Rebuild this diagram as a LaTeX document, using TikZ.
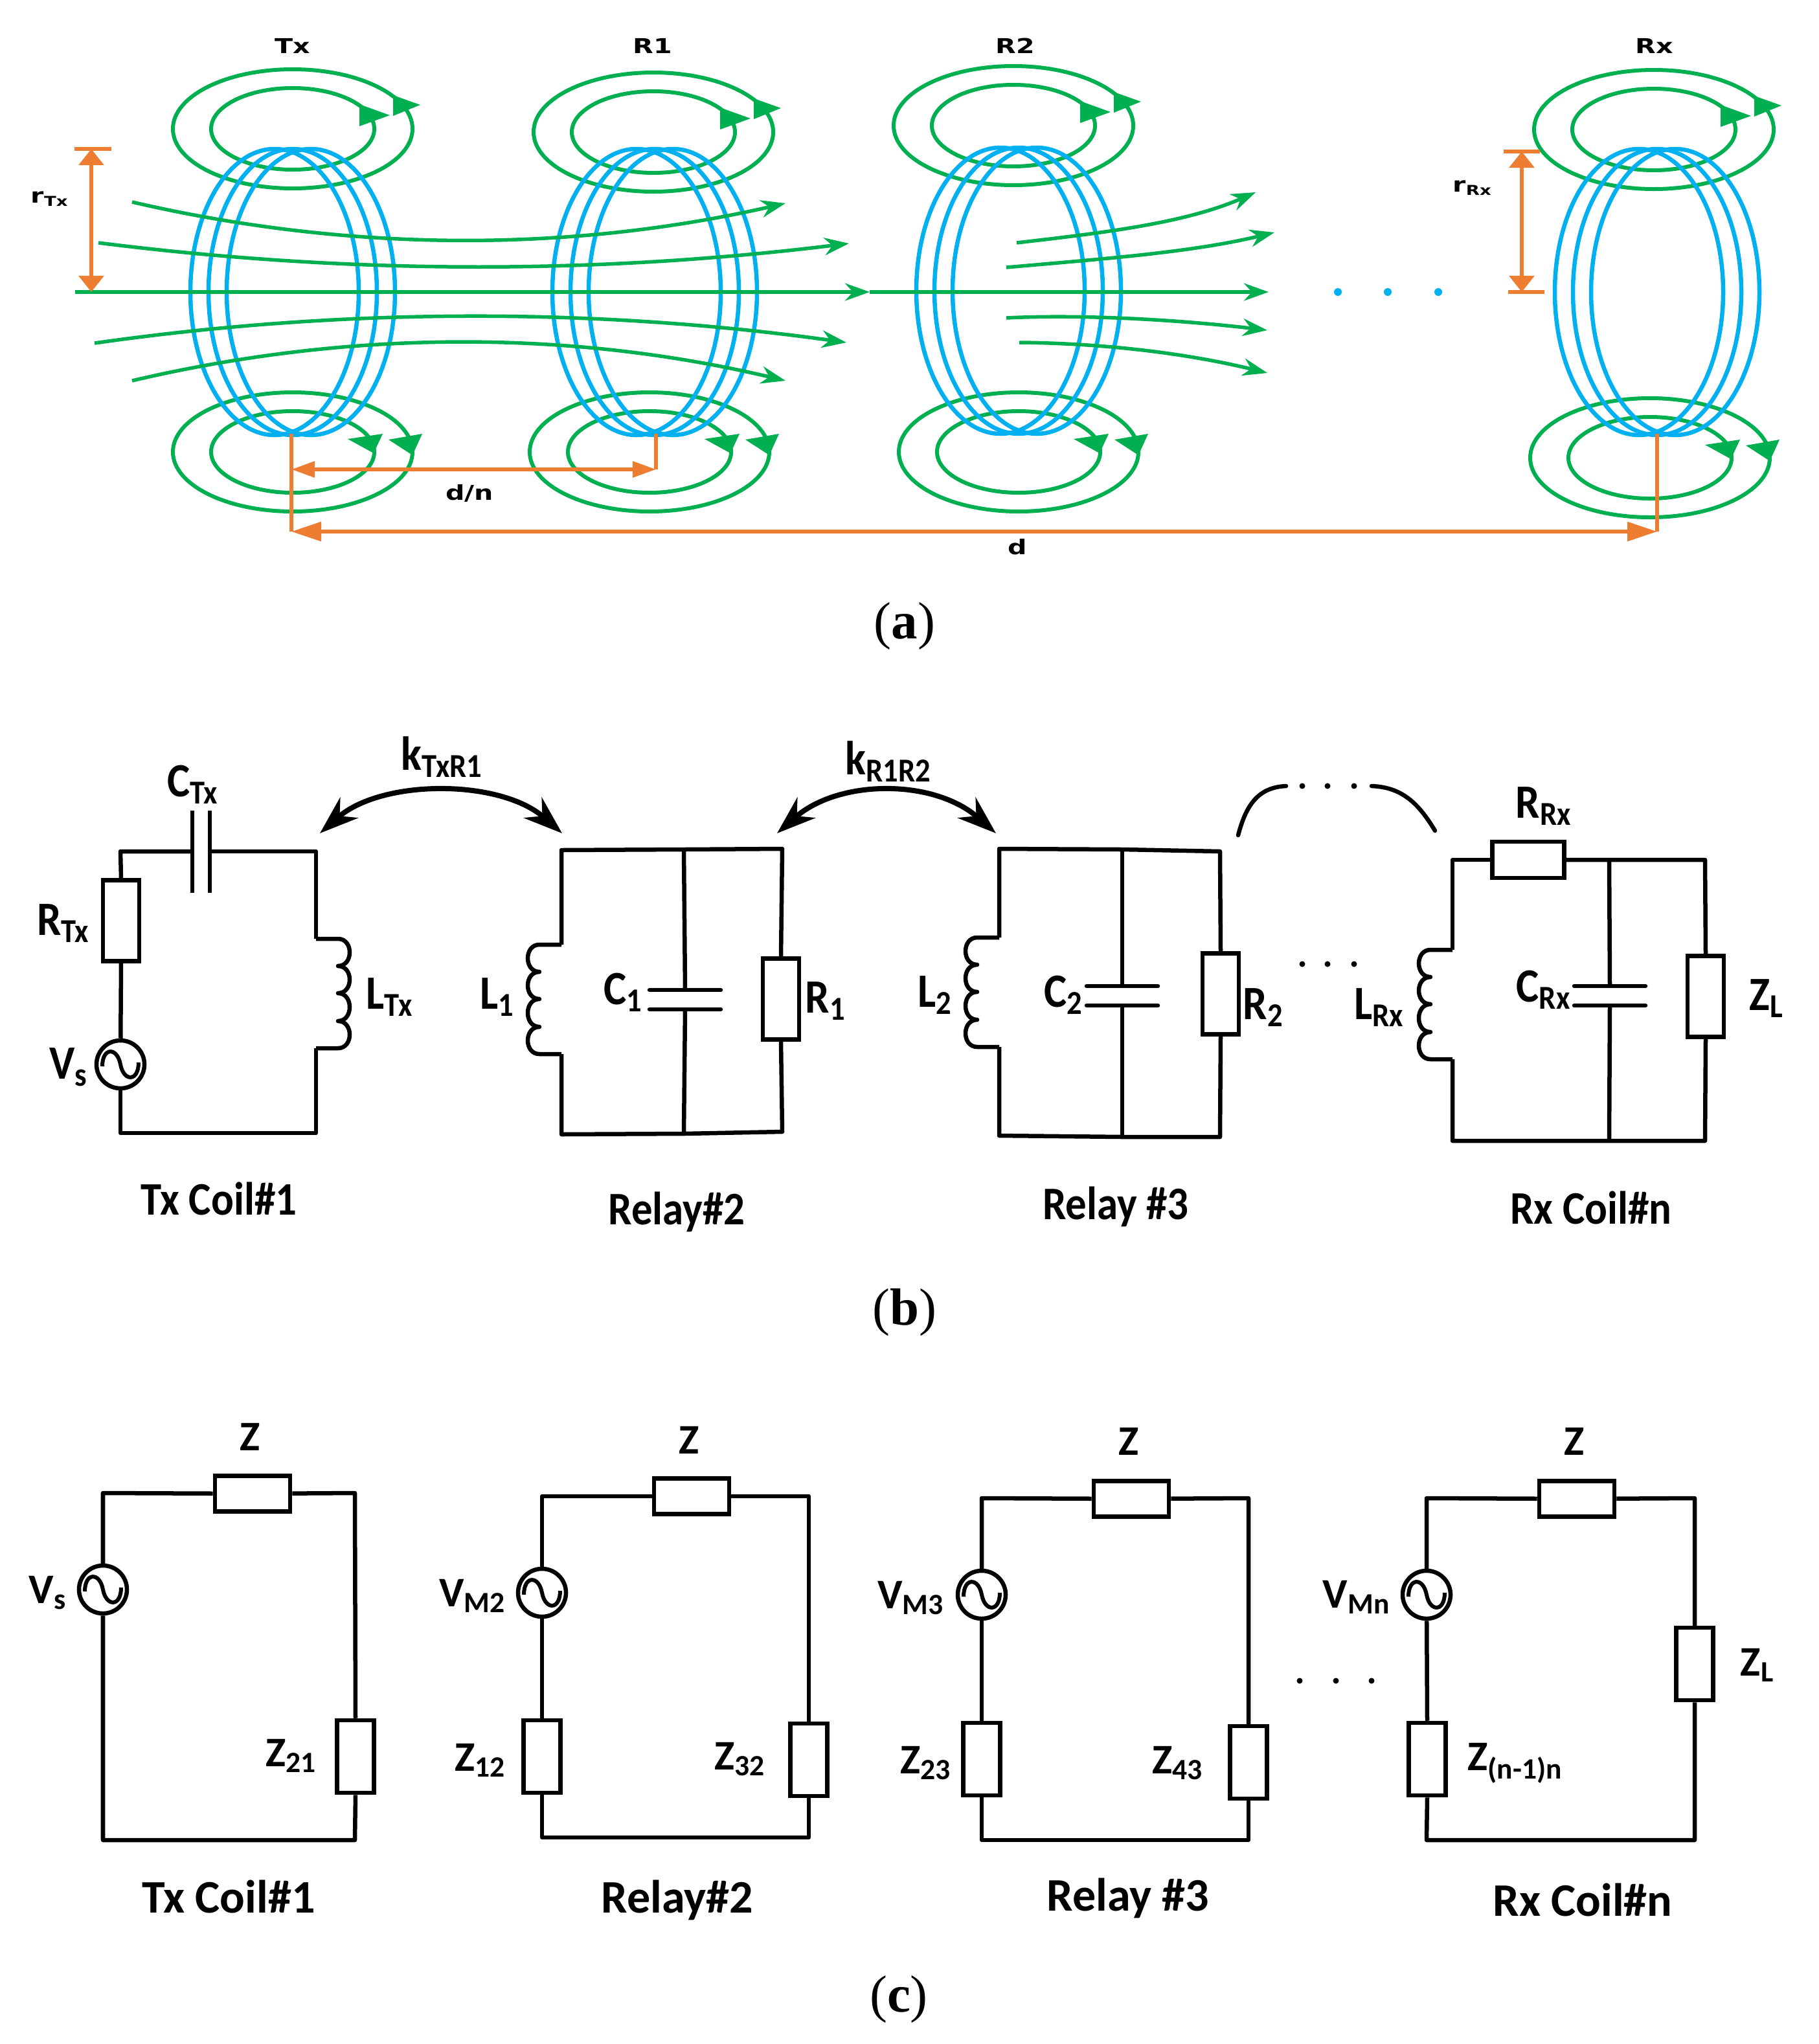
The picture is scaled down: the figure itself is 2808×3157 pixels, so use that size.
\documentclass[tikz,border=0pt]{standalone}
\usepackage{fontspec}
\setmainfont{Carlito}
\newfontfamily\narrowfont{Carlito}[FakeStretch=0.9]
\newfontfamily\widefont{DejaVu Sans}[FakeStretch=1.3]
\newfontfamily\capfont{Liberation Serif}
\usetikzlibrary{arrows.meta}
\definecolor{flux}{HTML}{00B050}
\definecolor{loopblue}{HTML}{00B0F0}
\definecolor{dimen}{HTML}{ED7D31}
\tikzset{
  wire/.style={line width=0.065cm,line join=round},
  rline/.style={flux,line width=0.06cm},
  bline/.style={loopblue,line width=0.065cm},
  fluxline/.style={flux,line width=0.055cm,-{Stealth[length=0.38cm,width=0.27cm]}},
  dimline/.style={dimen,line width=0.06cm},
  kline/.style={line width=0.08cm,{Stealth[length=0.6cm,width=0.42cm]}-{Stealth[length=0.6cm,width=0.42cm]}},
  resv/.style={draw,rectangle,line width=0.065cm,inner sep=0pt,minimum width=0.56cm,minimum height=1.25cm},
  resh/.style={draw,rectangle,line width=0.065cm,inner sep=0pt,minimum width=1.11cm,minimum height=0.56cm},
  zv/.style={resv,minimum width=0.57cm,minimum height=1.12cm},
  zh/.style={resh,minimum width=1.16cm,minimum height=0.55cm},
  source/.style={draw,circle,line width=0.065cm,inner sep=0pt,minimum size=0.74cm,
    path picture={\draw[line width=0.06cm,shift={(path picture bounding box.center)}]
      (-28,3) .. controls (-28,-27) and (-5,-27) .. (0,0) .. controls (5,27) and (28,27) .. (28,-3);}},
  dotb/.style={circle,fill=loopblue,inner sep=0pt,minimum size=0.12cm},
  dotk/.style={circle,fill=black,inner sep=0pt,minimum size=0.09cm},
  coiltext/.style={font=\widefont\bfseries\fontsize{9}{10}\selectfont,inner sep=0pt},
  lab/.style={font=\narrowfont\bfseries\fontsize{21}{24}\selectfont,inner sep=0pt},
  title/.style={font=\narrowfont\bfseries\fontsize{20.5}{24}\selectfont,inner sep=0pt},
  labc/.style={font=\bfseries\fontsize{18.5}{22}\selectfont,inner sep=0pt},
  titlec/.style={font=\bfseries\fontsize{20.5}{22}\selectfont,inner sep=0pt},
  panel/.style={font=\capfont\fontsize{23}{26}\selectfont,inner sep=0pt},
  threeloop/.pic={
    \draw[bline] (-28,0) ellipse [x radius=130,y radius=221];
    \draw[bline] (0,0) ellipse [x radius=130,y radius=221];
    \draw[bline] (28,0) ellipse [x radius=130,y radius=221];
  },
  ringtop/.pic={
    \draw[rline] (0,0) ellipse [x radius=185,y radius=92];
    \draw[rline] (0,0) ellipse [x radius=126,y radius=63];
    \fill[flux] (197,-37) -- (155,-52) -- (155,-20) -- cycle;
    \fill[flux] (150,-21) -- (103,-38) -- (103,-4) -- cycle;
  },
  ringbot/.pic={
    \draw[rline] (0,0) ellipse [x radius=185,y radius=92];
    \draw[rline] (0,0) ellipse [x radius=126,y radius=63];
    \fill[flux] (148,-19) -- (200,-28) -- (185,5) -- cycle;
    \fill[flux] (85,-20) -- (139,-28) -- (125,2) -- cycle;
  },
  coilr/.pic={
    \coordinate (-a) at (0,0);
    \coordinate (-b) at (0,169);
    \draw[wire] (-a) -- (34,0) .. controls (58,0) and (58,42) .. (34,42)
      .. controls (58,42) and (58,84) .. (34,84)
      .. controls (58,84) and (58,127) .. (34,127)
      .. controls (58,127) and (58,169) .. (34,169) -- (-b);
  },
  caph/.pic={
    \coordinate (-t) at (0,-15);
    \coordinate (-b) at (0,15);
    \draw[wire,line cap=round] (-55,-15) -- (55,-15);
    \draw[wire,line cap=round] (-55,15) -- (55,15);
  },
}
\begin{document}
\begin{tikzpicture}[x=0.01cm,y=-0.01cm]
\useasboundingbox (0,0) rectangle (2808,3157);

% Rings
\pic at (452,199) {ringtop};
\pic at (1009,204) {ringtop};
\pic at (1565,194) {ringtop};
\pic at (2554,200) {ringtop};
\pic at (452,698) {ringbot};
\pic at (1003,698) {ringbot};
\pic at (1573,698) {ringbot};
\pic at (2548,707) {ringbot};

% Loops
\pic at (452,451) {threeloop};
\pic at (1011,451) {threeloop};
\pic at (1573,449) {threeloop};
\pic at (2559,451) {threeloop};

% Coil names
\node[coiltext] (ntx) at (452,71) {Tx};
\node[coiltext] (nr1) at (1008,71) {R1};
\node[coiltext] (nr2) at (1568,71) {R2};
\node[coiltext] (nrx) at (2555,71) {Rx};
\node[coiltext] (nrtx) at (77,307) {r\textsubscript{Tx}};
\node[coiltext] (nrrx) at (2274,290) {r\textsubscript{Rx}};
\node[coiltext] (ndn) at (725,762) {d/n};
\node[coiltext] (nd) at (1571,845) {d};

% Field lines
\coordinate (fa) at (116,451);
\coordinate (fb) at (1343,451);
\coordinate (fc) at (1959,451);
\draw[fluxline] (fa) -- (fb);
\draw[fluxline] (fb) -- (fc);
\draw[fluxline] (204,312) .. controls (540,390) and (880,390) .. (1213,314);
\draw[fluxline] (152,375) .. controls (540,424) and (920,424) .. (1311,376);
\draw[fluxline] (146,530) .. controls (530,475) and (920,475) .. (1307,529);
\draw[fluxline] (204,588) .. controls (540,509) and (880,509) .. (1213,588);
\draw[fluxline] (1570,375) .. controls (1700,360) and (1830,345) .. (1939,297);
\draw[fluxline] (1554,413) .. controls (1700,400) and (1840,390) .. (1968,359);
\draw[fluxline] (1554,491) .. controls (1680,485) and (1830,495) .. (1957,510);
\draw[fluxline] (1574,529) .. controls (1700,530) and (1830,545) .. (1957,576);

\node[dotb] (bd1) at (2066,451) {};
\node[dotb] (bd2) at (2143,451) {};
\node[dotb] (bd3) at (2221,451) {};

% Dimensions
\coordinate (rt1) at (141,230);
\coordinate (rt2) at (141,451);
\coordinate (rr1) at (2350,234);
\coordinate (rr2) at (2350,451);
\coordinate (dtx) at (450,670);
\coordinate (dtb) at (450,821);
\coordinate (dr1) at (1013,670);
\coordinate (dr2) at (1013,725);
\coordinate (dtm) at (450,725);
\coordinate (drx) at (2559,670);
\coordinate (drb) at (2559,821);
\draw[dimline] (115,230) -- (172,230);
\draw[dimline] (2322,234) -- (2378,234);
\draw[dimline] (2329,451) -- (2385,451);
\draw[dimline,{Triangle[length=0.25cm,width=0.38cm]}-{Triangle[length=0.25cm,width=0.38cm]}] (rt1) -- (rt2);
\draw[dimline,{Triangle[length=0.25cm,width=0.38cm]}-{Triangle[length=0.25cm,width=0.38cm]}] (rr1) -- (rr2);
\draw[dimline] (dtx) -- (dtb);
\draw[dimline] (dr1) -- (dr2);
\draw[dimline] (drx) -- (drb);
\draw[dimline,{Triangle[length=0.36cm,width=0.24cm]}-{Triangle[length=0.36cm,width=0.24cm]}] (dtm) -- (dr2);
\draw[dimline,{Triangle[length=0.46cm,width=0.29cm]}-{Triangle[length=0.46cm,width=0.29cm]}] (dtb) -- (drb);

\node[panel] (pa) at (1397,967) {(\textbf{a})};

% Tx coil, circuit
\node[resv] (rtx) at (187,1422) {};
\node[source] (vs) at (186,1644) {};
\pic (ltx) at (488,1450) {coilr};
\coordinate (btl) at (186,1315);
\coordinate (btr) at (488,1315);
\coordinate (bbl) at (186,1750);
\coordinate (bbr) at (488,1750);
\coordinate (ca) at (297,1315);
\coordinate (cb) at (324,1315);
\coordinate (cat) at (297,1252);
\coordinate (cab) at (297,1379);
\coordinate (cbt) at (324,1252);
\coordinate (cbb) at (324,1379);
\draw[wire] (rtx.north) -- (btl) -- (ca);
\draw[wire] (cb) -- (btr) -- (ltx-a);
\draw[wire] (ltx-b) -- (bbr) -- (bbl) -- (vs);
\draw[wire] (vs) -- (rtx.south);
\draw[wire] (cat) -- (cab);
\draw[wire] (cbt) -- (cbb);
\node[lab] (lctx) at (298,1212) {C\textsubscript{Tx}};
\node[lab] (lrtx) at (98,1426) {R\textsubscript{Tx}};
\node[lab] (lvs) at (106,1648) {V\textsubscript{s}};
\node[lab] (lltx) at (602,1540) {L\textsubscript{Tx}};
\node[title] (ttx) at (338,1851) {Tx Coil\#1};

% Relay 2, circuit
\pic[xscale=-1] (l1) at (867,1459) {coilr};
\pic (c1) at (1058,1544) {caph};
\node[resv] (r1) at (1206,1543) {};
\coordinate (atl) at (867,1313);
\coordinate (atm) at (1056,1312);
\coordinate (atr) at (1208,1311);
\coordinate (abl) at (867,1752);
\coordinate (abm) at (1056,1751);
\coordinate (abr) at (1208,1748);
\draw[wire] (l1-a) -- (atl) -- (atm) -- (atr) -- (r1.north);
\draw[wire] (r1.south) -- (abr) -- (abm) -- (abl) -- (l1-b);
\draw[wire] (atm) -- (c1-t);
\draw[wire] (c1-b) -- (abm);
\node[lab] (ll1) at (768,1540) {L\textsubscript{1}};
\node[lab] (lc1) at (963,1533) {C\textsubscript{1}};
\node[lab] (lr1) at (1275,1546) {R\textsubscript{1}};
\node[title] (tr2) at (1045,1872) {Relay\#2};

% Relay 3, circuit
\pic[xscale=-1] (l2) at (1543,1448) {coilr};
\pic (c2) at (1733,1538) {caph};
\node[resv] (r2) at (1885,1535) {};
\coordinate (ctl) at (1543,1311);
\coordinate (ctm) at (1733,1312);
\coordinate (ctr) at (1884,1315);
\coordinate (cbl) at (1543,1754);
\coordinate (cbm) at (1733,1756);
\coordinate (cbr) at (1884,1756);
\draw[wire] (l2-a) -- (ctl) -- (ctm) -- (ctr) -- (r2.north);
\draw[wire] (r2.south) -- (cbr) -- (cbm) -- (cbl) -- (l2-b);
\draw[wire] (ctm) -- (c2-t);
\draw[wire] (c2-b) -- (cbm);
\node[lab] (ll2) at (1444,1537) {L\textsubscript{2}};
\node[lab] (lc2) at (1643,1537) {C\textsubscript{2}};
\node[lab] (lr2) at (1951,1556) {R\textsubscript{2}};
\node[title] (tr3) at (1723,1864) {Relay \#3};

% Rx coil, circuit
\pic[xscale=-1] (lrx) at (2243,1467) {coilr};
\pic (crx) at (2486,1538) {caph};
\node[resh] (rrx) at (2360,1328) {};
\node[resv] (zl) at (2634,1539) {};
\coordinate (dtl) at (2243,1328);
\coordinate (dtm2) at (2485,1328);
\coordinate (dtr) at (2633,1328);
\coordinate (dbl) at (2243,1762);
\coordinate (dbm) at (2485,1762);
\coordinate (dbr) at (2633,1762);
\draw[wire] (lrx-a) -- (dtl) -- (rrx);
\draw[wire] (rrx) -- (dtm2) -- (dtr) -- (zl.north);
\draw[wire] (zl.south) -- (dbr) -- (dbm) -- (dbl) -- (lrx-b);
\draw[wire] (dtm2) -- (crx-t);
\draw[wire] (crx-b) -- (dbm);
\node[lab] (lrrx) at (2384,1245) {R\textsubscript{Rx}};
\node[lab] (lcrx) at (2384,1529) {C\textsubscript{Rx}};
\node[lab] (llrx) at (2130,1556) {L\textsubscript{Rx}};
\node[lab] (lzl) at (2728,1542) {Z\textsubscript{L}};
\node[title] (trx) at (2457,1865) {Rx Coil\#n};

% Coupling
\coordinate (k1a) at (494,1287);
\coordinate (k1b) at (868,1287);
\coordinate (k2a) at (1200,1287);
\coordinate (k2b) at (1538,1287);
\draw[kline] (k1a) .. controls (590,1203) and (772,1203) .. (k1b);
\draw[kline] (k2a) .. controls (1296,1203) and (1442,1203) .. (k2b);
\node[lab] (lk1) at (683,1169) {k\textsubscript{TxR1}};
\node[lab] (lk2) at (1372,1176) {k\textsubscript{R1R2}};
\coordinate (m1) at (1912,1290);
\coordinate (m2) at (1986,1214);
\coordinate (m3) at (2118,1214);
\coordinate (m4) at (2216,1283);
\draw[wire,line cap=round] (m1) .. controls (1925,1240) and (1945,1216) .. (m2);
\draw[wire,line cap=round] (m3) .. controls (2165,1216) and (2190,1240) .. (m4);
\node[dotk] (kd1) at (2011,1214) {};
\node[dotk] (kd2) at (2050,1214) {};
\node[dotk] (kd3) at (2091,1214) {};
\node[dotk] (kd4) at (2011,1489) {};
\node[dotk] (kd5) at (2050,1489) {};
\node[dotk] (kd6) at (2091,1489) {};

\node[panel] (pb) at (1397,2027) {(\textbf{b})};

% Tx coil, equivalent
\node[zh] (etz) at (390,2307) {};
\node[source] (evs) at (159,2455) {};
\node[zv] (ez21) at (549,2713) {};
\coordinate (etl) at (159,2306);
\coordinate (etr) at (548,2306);
\coordinate (ebl) at (159,2842);
\coordinate (ebr) at (548,2842);
\draw[wire] (evs) -- (etl) -- (etz);
\draw[wire] (etz) -- (etr) -- (ez21.north);
\draw[wire] (ez21.south) -- (ebr) -- (ebl) -- (evs);
\node[labc] (leta) at (386,2219) {Z};
\node[labc] (levs) at (74,2460) {V\textsubscript{s}};
\node[labc] (le21) at (450,2712) {Z\textsubscript{21}};
\node[titlec] (etx) at (353,2929) {Tx Coil\#1};

% Relay 2, equivalent
\node[zh] (fz) at (1068,2311) {};
\node[source] (fvs) at (837,2460) {};
\node[zv] (fz12) at (837,2713) {};
\node[zv] (fz32) at (1249,2718) {};
\coordinate (ftl) at (837,2311);
\coordinate (ftr) at (1249,2311);
\coordinate (fbl) at (837,2838);
\coordinate (fbr) at (1249,2838);
\draw[wire] (fvs) -- (ftl) -- (fz);
\draw[wire] (fz) -- (ftr) -- (fz32.north);
\draw[wire] (fz32.south) -- (fbr) -- (fbl) -- (fz12.south);
\draw[wire] (fz12.north) -- (fvs);
\node[labc] (lfz) at (1064,2224) {Z};
\node[labc] (lfvs) at (730,2465) {V\textsubscript{M2}};
\node[labc] (lf12) at (742,2719) {Z\textsubscript{12}};
\node[labc] (lf32) at (1143,2717) {Z\textsubscript{32}};
\node[titlec] (ftt) at (1046,2935) {Relay\#2};

% Relay 3, equivalent
\node[zh] (gz) at (1747,2315) {};
\node[source] (gvs) at (1516,2463) {};
\node[zv] (gz23) at (1516,2717) {};
\node[zv] (gz43) at (1928,2722) {};
\coordinate (gtl) at (1516,2314);
\coordinate (gtr) at (1928,2314);
\coordinate (gbl) at (1516,2842);
\coordinate (gbr) at (1928,2842);
\draw[wire] (gvs) -- (gtl) -- (gz);
\draw[wire] (gz) -- (gtr) -- (gz43.north);
\draw[wire] (gz43.south) -- (gbr) -- (gbl) -- (gz23.south);
\draw[wire] (gz23.north) -- (gvs);
\node[labc] (lgz) at (1743,2226) {Z};
\node[labc] (lgvs) at (1407,2468) {V\textsubscript{M3}};
\node[labc] (lg23) at (1430,2723) {Z\textsubscript{23}};
\node[labc] (lg43) at (1819,2723) {Z\textsubscript{43}};
\node[titlec] (gtt) at (1742,2932) {Relay \#3};

\node[dotk] (gd1) at (2007,2596) {};
\node[dotk] (gd2) at (2063,2596) {};
\node[dotk] (gd3) at (2118,2596) {};

% Rx coil, equivalent
\node[zh] (hz) at (2435,2315) {};
\node[source] (hvs) at (2203,2463) {};
\node[zv] (hzn) at (2204,2717) {};
\node[zv] (hzl) at (2617,2570) {};
\coordinate (htl) at (2203,2314);
\coordinate (htr) at (2617,2314);
\coordinate (hbl) at (2203,2842);
\coordinate (hbr) at (2617,2842);
\draw[wire] (hvs) -- (htl) -- (hz);
\draw[wire] (hz) -- (htr) -- (hzl.north);
\draw[wire] (hzl.south) -- (hbr) -- (hbl) -- (hzn.south);
\draw[wire] (hzn.north) -- (hvs);
\node[labc] (lhz) at (2431,2226) {Z};
\node[labc] (lhvs) at (2095,2467) {V\textsubscript{Mn}};
\node[labc] (lhn) at (2340,2723) {Z\textsubscript{(n-1)n}};
\node[labc] (lhl) at (2714,2572) {Z\textsubscript{L}};
\node[titlec] (htt) at (2444,2934) {Rx Coil\#n};

\node[panel] (pc) at (1388,3088) {(\textbf{c})};
\end{tikzpicture}
\end{document}
